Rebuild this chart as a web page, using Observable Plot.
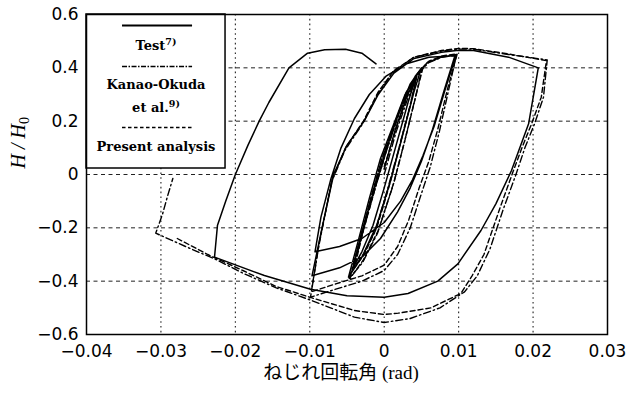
<!DOCTYPE html>
<html>
<head>
<meta charset="utf-8">
<script src="https://cdn.jsdelivr.net/npm/d3@7"></script>
<script src="https://cdn.jsdelivr.net/npm/@observablehq/plot@0.6"></script>
<style>
  html, body { margin: 0; padding: 0; background: #fff; }
</style>
</head>
<body>
<div id="chart"></div>
<script>
// ---- tick values / grid ----
const xTicks = [-0.04, -0.03, -0.02, -0.01, 0, 0.01, 0.02, 0.03];
const yTicks = [-0.6, -0.4, -0.2, 0, 0.2, 0.4, 0.6];
const xGrid = [-0.03, -0.02, -0.01, 0, 0.01, 0.02];
const yGrid = [-0.4, -0.2, 0, 0.2, 0.4];

// ---- series (rotation [rad], H/H0) ----
const testPath = [
  [0.0,0.02],[0.0015,0.17],[0.003,0.29],[0.0042,0.36],
  [0.0032,0.27],[0.0015,0.1],[0.0,-0.05],[-0.0015,-0.19],[-0.003,-0.29],[-0.0042,-0.35],
  [-0.003,-0.22],[-0.0015,-0.07],[0.0,0.07],[0.0018,0.22],[0.0035,0.34],[0.005,0.40],
  [0.004,0.31],[0.0025,0.15],[0.001,-0.01],[-0.001,-0.19],[-0.003,-0.31],[-0.0048,-0.385],
  [-0.0035,-0.25],[-0.002,-0.09],[-0.0005,0.06],[0.0013,0.19],[0.0028,0.3],[0.0042,0.37],[0.0058,0.42],[0.0077,0.44],[0.0097,0.45],
  [0.0082,0.32],[0.0067,0.18],[0.0052,0.07],[0.0038,-0.02],[0.0022,-0.1],[0.0,-0.18],[-0.003,-0.24],[-0.006,-0.27],[-0.0093,-0.29],
  [-0.0085,-0.16],[-0.0072,-0.02],[-0.0058,0.1],[-0.004,0.21],[-0.002,0.3],[0.0003,0.37],[0.003,0.415],[0.006,0.44],[0.0095,0.445],
  [0.008,0.31],[0.0065,0.17],[0.005,0.05],[0.0035,-0.05],[0.0018,-0.14],[-0.0005,-0.24],[-0.003,-0.31],[-0.006,-0.35],[-0.0097,-0.38],
  [-0.0085,-0.22],[-0.0068,0.0],[-0.005,0.11],[-0.0027,0.2],[-0.0008,0.3],[0.0013,0.38],[0.004,0.435],[0.0077,0.458],[0.01,0.466],[0.012,0.465],[0.0167,0.44],[0.0207,0.40],
  [0.0194,0.19],[0.0171,0.015],[0.015,-0.11],[0.013,-0.21],[0.0099,-0.335],[0.0072,-0.40],[0.0032,-0.446],[0.0,-0.46],[-0.005,-0.455],[-0.0099,-0.43],[-0.0161,-0.379],[-0.0228,-0.31],
  [-0.0224,-0.19],[-0.0213,-0.1],[-0.02,0.0],[-0.0183,0.11],[-0.0168,0.2],[-0.0155,0.27],[-0.0128,0.40],[-0.0103,0.455],[-0.008,0.468],[-0.0052,0.47],[-0.003,0.455],[-0.0011,0.415]
];

const kanaoPath = [
  [0.0,0.0],[0.0016,0.16],[0.0031,0.28],[0.0043,0.36],
  [0.0034,0.25],[0.0018,0.08],[0.0003,-0.07],[-0.0012,-0.21],[-0.0028,-0.3],[-0.0041,-0.35],
  [-0.0029,-0.22],[-0.0013,-0.06],[0.0002,0.08],[0.0019,0.22],[0.0036,0.34],[0.0051,0.40],
  [0.0042,0.29],[0.0027,0.12],[0.0012,-0.04],[-0.0009,-0.22],[-0.0029,-0.33],[-0.0047,-0.39],
  [-0.0034,-0.26],[-0.0019,-0.1],[-0.0004,0.05],[0.0014,0.19],[0.0029,0.3],[0.0044,0.375],[0.006,0.42],[0.0078,0.44],[0.0097,0.448],
  [0.0086,0.31],[0.0074,0.16],[0.0062,0.03],[0.0049,-0.08],[0.0035,-0.2],[0.0018,-0.3],[0.0,-0.36],[-0.003,-0.4],[-0.0065,-0.43],[-0.0099,-0.46],
  [-0.0088,-0.27],[-0.0071,-0.03],[-0.0053,0.09],[-0.0029,0.19],[-0.0009,0.3],[0.0012,0.385],[0.004,0.44],[0.0077,0.463],[0.01,0.47],[0.012,0.47],[0.0167,0.45],[0.0219,0.43],
  [0.0214,0.29],[0.0202,0.19],[0.0189,0.1],[0.0177,0.0],[0.016,-0.13],[0.0142,-0.28],[0.0125,-0.38],[0.0108,-0.44],[0.0075,-0.5],[0.0035,-0.54],[0.0,-0.555],[-0.004,-0.535],[-0.0098,-0.472],[-0.0145,-0.425],[-0.019,-0.37],[-0.0225,-0.32],[-0.0267,-0.27],[-0.0307,-0.22],
  [-0.0298,-0.15],[-0.0291,-0.08],[-0.0284,-0.015]
];

const presentPath = [
  [0.0,0.03],[0.0017,0.18],[0.0032,0.3],[0.0044,0.37],
  [0.0035,0.26],[0.002,0.1],[0.0005,-0.06],[-0.001,-0.2],[-0.0027,-0.3],[-0.004,-0.35],
  [-0.0028,-0.21],[-0.0012,-0.05],[0.0003,0.09],[0.002,0.23],[0.0037,0.34],[0.0052,0.40],
  [0.0043,0.3],[0.0028,0.13],[0.0013,-0.03],[-0.0008,-0.21],[-0.0028,-0.32],[-0.0046,-0.39],
  [-0.0033,-0.25],[-0.0018,-0.09],[-0.0003,0.06],[0.0015,0.2],[0.003,0.31],[0.0045,0.38],[0.006,0.425],[0.0078,0.445],[0.0098,0.452],
  [0.0085,0.32],[0.0072,0.17],[0.006,0.05],[0.0047,-0.05],[0.0033,-0.17],[0.0018,-0.27],[0.0,-0.34],[-0.003,-0.38],[-0.0065,-0.41],[-0.0098,-0.44],
  [-0.0087,-0.25],[-0.007,-0.02],[-0.0052,0.1],[-0.0028,0.2],[-0.0008,0.31],[0.0013,0.39],[0.004,0.44],[0.0077,0.465],[0.01,0.473],[0.012,0.472],[0.0167,0.452],[0.0218,0.427],
  [0.0211,0.29],[0.0198,0.19],[0.0185,0.1],[0.0173,0.01],[0.0155,-0.13],[0.0134,-0.3],[0.0118,-0.38],[0.0103,-0.446],[0.0063,-0.5],[0.0019,-0.52],[0.0,-0.525],[-0.004,-0.51],[-0.0098,-0.462],[-0.0145,-0.42],[-0.019,-0.36],[-0.0237,-0.3],[-0.0278,-0.24]
];

// ---- text ----
const seriesNames = ["Test", "Kanao-Okuda", "et al.", "Present analysis"];
const seriesRefs = {"Test": "7)", "et al.": "9)"};
const xLabel = "ねじれ回転角 (rad)";
const yLabelMain = "H / H";
const yLabelSub = "0";

// ---- legend layout (data coordinates of the inset box) ----
const legendBox = {x1: -0.04, x2: -0.02132, y1: 0.0225, y2: 0.6};
const legendSampleX = {x1: -0.03516, x2: -0.02575};
const legendSamples = {solid: 0.5587, dashdot: 0.405, dash: 0.1762};
const legendText = [
  {text: seriesNames[0], y: 0.4837},
  {text: seriesNames[1], y: 0.3375},
  {text: seriesNames[2], y: 0.2512},
  {text: seriesNames[3], y: 0.105}
];
const legendCx = -0.03066;

const fmt = d => d === 0 ? "0" : String(d).replace("-", "\u2212");
const sample = (y, opts) => Plot.ruleY([y], {y: d => d, x1: () => legendSampleX.x1, x2: () => legendSampleX.x2, stroke: "#000", ...opts});

const chart = Plot.plot({
  width: 630,
  height: 394,
  marginLeft: 86,
  marginRight: 23,
  marginTop: 14,
  marginBottom: 60,
  style: {fontFamily: "'DejaVu Sans', sans-serif", fontSize: "17px", background: "#fff", color: "#000", overflow: "visible"},
  x: {domain: [-0.04, 0.03]},
  y: {domain: [-0.6, 0.6]},
  marks: [
    Plot.ruleX(xGrid, {stroke: "#222", strokeWidth: 1.1, strokeDasharray: "1.6,3.2"}),
    Plot.ruleY(yGrid, {stroke: "#222", strokeWidth: 1, strokeDasharray: "4,3.5"}),
    Plot.line(testPath, {stroke: "#000", strokeWidth: 1.5, strokeLinejoin: "round"}),
    Plot.line(kanaoPath, {stroke: "#000", strokeWidth: 1.4, strokeDasharray: "7,3,1.5,3"}),
    Plot.line(presentPath, {stroke: "#000", strokeWidth: 1.4, strokeDasharray: "5,3"}),
    // legend inset
    Plot.rect([legendBox], {x1: "x1", x2: "x2", y1: "y1", y2: "y2", fill: "#fff", stroke: "#000", strokeWidth: 1.5}),
    sample(legendSamples.solid, {strokeWidth: 2}),
    sample(legendSamples.dashdot, {strokeWidth: 1.3, strokeDasharray: "5,1.5,1.5,1.5"}),
    sample(legendSamples.dash, {strokeWidth: 1.3, strokeDasharray: "3.5,2.5"}),
    Plot.text(legendText, {
      x: () => legendCx, y: "y", text: "text",
      fontFamily: "'DejaVu Serif', serif", fontSize: 13, fontWeight: "bold", fill: "#000"
    }),
    Plot.frame({stroke: "#000", strokeWidth: 1.5}),
    Plot.axisX(xTicks, {tickSize: 0, tickPadding: 10, tickFormat: fmt, label: null, fontSize: 17}),
    Plot.axisY(yTicks, {tickSize: 0, tickPadding: 8, tickFormat: fmt, label: null, fontSize: 17}),
    Plot.text([xLabel], {frameAnchor: "bottom", dy: 44, dx: -6, text: d => d,
      fontFamily: "'Liberation Serif', 'Noto Sans CJK JP', serif", fontSize: 19, fill: "#000"}),
    Plot.text([yLabelMain], {frameAnchor: "left", dx: -68, dy: -6, rotate: -90, text: d => d,
      fontFamily: "'Liberation Serif', serif", fontStyle: "italic", fontSize: 20, fill: "#000"})
  ]
});

// superscript references in the legend and subscript in the y label
d3.select(chart).selectAll("text").each(function () {
  const t = this.textContent;
  const sel = d3.select(this);
  if (seriesRefs[t]) {
    sel.append("tspan").attr("dy", -5).attr("font-size", 9.5).attr("font-weight", "bold").text(seriesRefs[t]);
  } else if (t === yLabelMain) {
    sel.append("tspan").attr("dy", 4).attr("font-size", 14).attr("font-style", "normal").text(yLabelSub);
  }
});
document.getElementById("chart").appendChild(chart);
</script>
</body>
</html>
